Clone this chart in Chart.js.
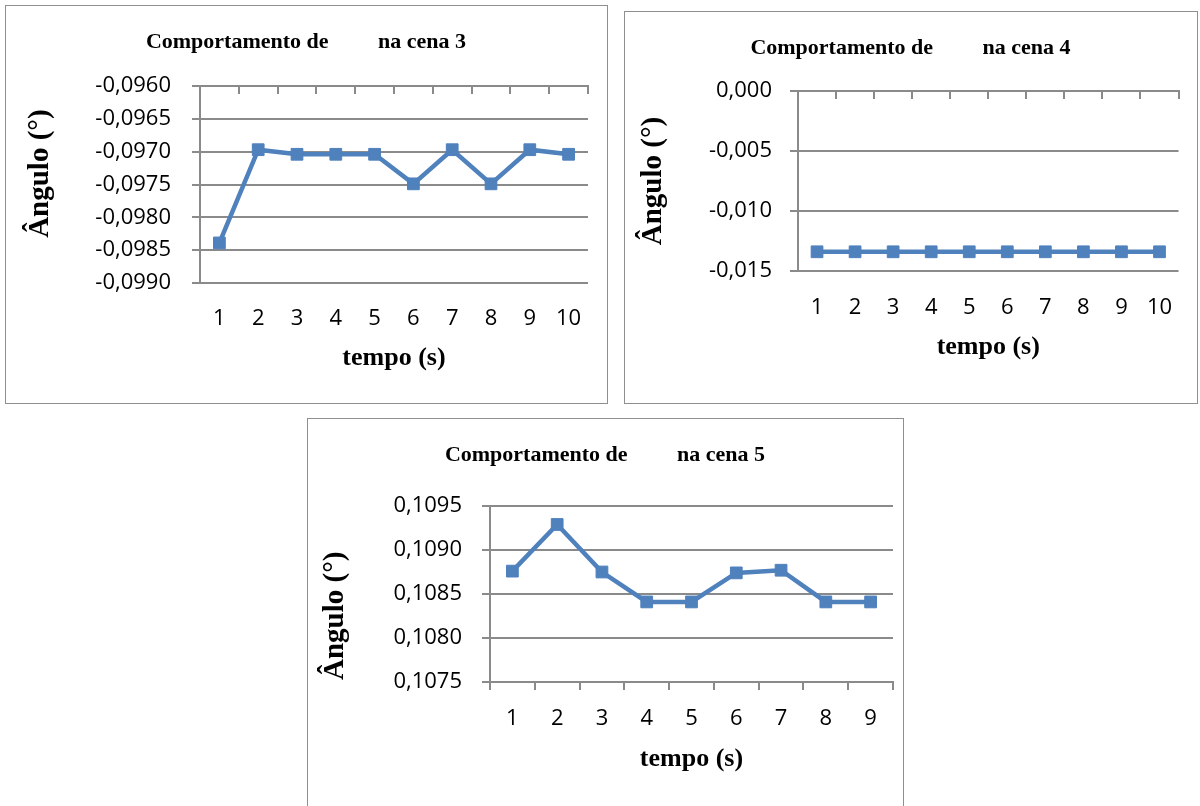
<!DOCTYPE html>
<html lang="pt">
<head>
<meta charset="utf-8">
<title>Comportamento do ângulo nas cenas 3, 4 e 5</title>
<script src="https://cdn.jsdelivr.net/npm/chart.js@4.4.1/dist/chart.umd.min.js"></script>
<style>
  html, body { margin: 0; padding: 0; background: #ffffff; }
  body { width: 1200px; height: 806px; position: relative; overflow: hidden; }
  canvas { position: absolute; }
  .frame { position: absolute; box-sizing: border-box; border: 1px solid #8f8f8f; pointer-events: none; }
</style>
</head>
<body>
<div class="frame" style="left:5px;top:5px;width:603px;height:399px;"></div>
<div class="frame" style="left:624px;top:11px;width:574px;height:393px;"></div>
<div class="frame" style="left:307px;top:418px;width:597px;height:400px;"></div>
<canvas id="cena3" width="602" height="398" style="left:5px;top:5px;"></canvas>
<canvas id="cena4" width="573" height="392" style="left:624px;top:11px;"></canvas>
<canvas id="cena5" width="596" height="388" style="left:307px;top:418px;"></canvas>
<script>
// tempo (s)
const tempo10 = ['1', '2', '3', '4', '5', '6', '7', '8', '9', '10'];
const tempo9 = ['1', '2', '3', '4', '5', '6', '7', '8', '9'];

// ângulo (°) por cena
const angulo3 = [-0.09839, -0.09697, -0.09704, -0.09704, -0.09704, -0.09749, -0.09697, -0.09749, -0.09697, -0.09704];
const angulo4 = [-0.0134, -0.0134, -0.0134, -0.0134, -0.0134, -0.0134, -0.0134, -0.0134, -0.0134, -0.0134];
const angulo5 = [0.10876, 0.10929, 0.10875, 0.10841, 0.10841, 0.10874, 0.10877, 0.10841, 0.10841];

// marcas do eixo vertical
const yTicks3 = [-0.0990, -0.0985, -0.0980, -0.0975, -0.0970, -0.0965, -0.0960];
const yTicks4 = [-0.015, -0.010, -0.005, 0.000];
const yTicks5 = [0.1075, 0.1080, 0.1085, 0.1090, 0.1095];

const titulo3 = 'Comportamento de         na cena 3';
const titulo4 = 'Comportamento de         na cena 4';
const titulo5 = 'Comportamento de         na cena 5';
const tituloY = 'Ângulo (°)';
const tituloX = 'tempo (s)';

const AXIS = '#8a8a8a';
const BLUE = '#4f81bd';
const SERIF = "'Liberation Serif', 'Times New Roman', serif";
const SANS = "'Open Sans', 'Noto Sans', sans-serif";

function fmt(v, dec) {
  return v.toFixed(dec).replace('.', ',');
}

// pad the rotated axis title so its visible text sits off-centre along the axis
function shifted(text, lead, trail) {
  return ' '.repeat(lead) + text + ' '.repeat(trail);
}

function buildPanel(id, p) {
  const titleFont = { family: SERIF, size: 22, weight: 'bold', lineHeight: 1.2 };
  const titleTop = 24;
  const titleBottom = p.area.t - titleFont.size * 1.2 - titleTop;
  const xTitleSize = 26;
  const yTitleSize = 29;

  const scales = {
    x: {
      type: 'category',
      position: 'bottom',
      offset: true,
      grid: p.axisAtTop
        ? { display: false, drawTicks: false }
        : { display: true, drawOnChartArea: false, offset: true, drawTicks: true, tickLength: 8, color: AXIS, lineWidth: 2 },
      border: { display: !p.axisAtTop, color: AXIS, width: 2 },
      ticks: {
        autoSkip: false, maxRotation: 0, minRotation: 0,
        color: '#000', padding: p.xLabelPad,
        font: { family: SANS, size: 22, lineHeight: 1.2 }
      },
      title: {
        display: true, text: tituloX, color: '#000',
        font: { family: SERIF, size: xTitleSize, weight: 'bold', lineHeight: 1.2 },
        padding: { top: 0, bottom: p.H - xTitleSize * 0.6 - p.xTitleMid }
      },
      afterFit: (s) => { s.height = p.H - p.area.b; }
    },
    y: {
      position: 'left',
      min: p.yTicks[0],
      max: p.yTicks[p.yTicks.length - 1],
      afterBuildTicks: (s) => { s.ticks = p.yTicks.map((v) => ({ value: v })); },
      grid: { color: AXIS, lineWidth: 2, drawTicks: true, tickLength: 8 },
      border: { display: true, color: AXIS, width: 2 },
      ticks: {
        color: '#000', padding: p.yLabelPad,
        font: { family: SANS, size: 22, lineHeight: 1.2 },
        callback: (v) => fmt(v, p.dec)
      },
      title: {
        display: true, text: p.yTitle, color: '#000',
        font: { family: SERIF, size: yTitleSize, weight: 'bold', lineHeight: 1.2 },
        padding: { top: p.yTitleMid - yTitleSize * 0.6, bottom: 0 }
      },
      afterFit: (s) => { s.width = p.area.l; }
    },
    // empty right-hand strip: keeps the plot narrower while the title stays centred on the panel
    margemDireita: {
      position: 'right',
      grid: { display: false, drawTicks: false },
      border: { display: false },
      ticks: { display: false },
      afterFit: (s) => { s.width = p.W - p.area.r; }
    }
  };

  if (p.axisAtTop) {
    // category axis crossing at the top of the plot, tick marks pointing down
    scales.xTop = {
      type: 'category',
      position: 'top',
      labels: p.labels,
      offset: true,
      grid: { display: true, drawOnChartArea: false, offset: true, drawTicks: true, tickLength: -8, color: AXIS, lineWidth: 2 },
      border: { display: true, color: AXIS, width: 2 },
      ticks: { display: false },
      afterFit: (s) => { s.height = 0; }
    };
  }

  return new Chart(document.getElementById(id), {
    type: 'line',
    data: {
      labels: p.labels,
      datasets: [{
        data: p.values,
        xAxisID: 'x',
        yAxisID: 'y',
        borderColor: BLUE,
        borderWidth: 4.5,
        tension: 0,
        pointStyle: 'rect',
        pointRadius: 8.3,
        pointBackgroundColor: BLUE,
        pointBorderColor: BLUE,
        pointBorderWidth: 1,
        clip: false
      }]
    },
    options: {
      responsive: false,
      animation: false,
      devicePixelRatio: 1,
      events: [],
      layout: { padding: 0 },
      plugins: {
        legend: { display: false },
        tooltip: { enabled: false },
        title: {
          display: true, text: p.title, color: '#000',
          font: titleFont,
          padding: { top: titleTop, bottom: titleBottom }
        }
      },
      scales
    }
  });
}

buildPanel('cena3', {
  W: 602, H: 398,
  area: { l: 195, r: 583, t: 81, b: 278 },
  labels: tempo10, values: angulo3, yTicks: yTicks3, dec: 4,
  title: titulo3, yTitle: shifted(tituloY, 3, 0), axisAtTop: true,
  yLabelPad: 21, xLabelPad: 23, yTitleMid: 36, xTitleMid: 353
});

buildPanel('cena4', {
  W: 573, H: 392,
  area: { l: 174, r: 560, t: 80, b: 260 },
  labels: tempo10, values: angulo4, yTicks: yTicks4, dec: 3,
  title: titulo4, yTitle: tituloY, axisAtTop: true,
  yLabelPad: 18, xLabelPad: 24, yTitleMid: 30, xTitleMid: 336
});

buildPanel('cena5', {
  W: 596, H: 388,
  area: { l: 183, r: 586, t: 88, b: 264 },
  labels: tempo9, values: angulo5, yTicks: yTicks5, dec: 4,
  title: titulo5, yTitle: shifted(tituloY, 0, 6), axisAtTop: false,
  yLabelPad: 20, xLabelPad: 16, yTitleMid: 29, xTitleMid: 341
});
</script>
</body>
</html>
